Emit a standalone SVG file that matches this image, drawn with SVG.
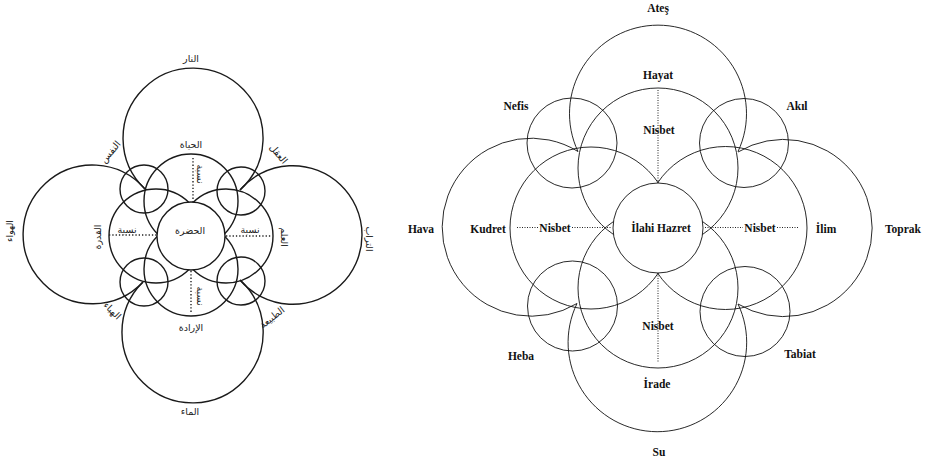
<svg xmlns="http://www.w3.org/2000/svg" width="925" height="463" viewBox="0 0 925 463">
<style>
.a{fill:none;stroke:#1a1a1a;stroke-width:1.4}
.ac{fill:#fff;stroke:#1a1a1a;stroke-width:1.4}
.b{fill:none;stroke:#111;stroke-width:0.9}
.bc{fill:#fff;stroke:#111;stroke-width:0.9}
.da{stroke:#222;stroke-width:1.4;stroke-dasharray:1.3 2;fill:none}
.db{stroke:#222;stroke-width:1;stroke-dasharray:1 1.5;fill:none}
.ar{font-family:"DejaVu Sans",sans-serif;font-size:9.5px;fill:#222;text-anchor:middle}
.tr{font-family:"Liberation Serif","Times New Roman",serif;font-size:11.5px;font-weight:bold;fill:#111;text-anchor:middle}
</style>
<rect width="925" height="463" fill="#fff"/>

<!-- LEFT: original manuscript diagram -->
<g id="left-diagram">
  <g id="l-nar"><path class="a" d="M145,189 A70,70 0 1 1 240,190"/><text class="ar" x="191" y="62">النار</text></g>
  <g id="l-hava"><path class="a" d="M145,189 A69.4,69.4 0 1 0 143,282"/><text class="ar" transform="translate(13,231) rotate(-90)">الهواء</text></g>
  <g id="l-turab"><path class="a" d="M240,190 A69.3,69.3 0 1 1 240,280"/><text class="ar" transform="translate(366,239) rotate(90)">التراب</text></g>
  <g id="l-ma"><path class="a" d="M143,282 A70.6,70.6 0 1 0 240,280"/><text class="ar" x="190" y="415">الماء</text></g>

  <g id="l-hayat"><circle class="a" cx="191" cy="201" r="47"/><text class="ar" x="191" y="148">الحياة</text></g>
  <g id="l-irade"><circle class="a" cx="191" cy="269" r="47"/><text class="ar" x="191" y="331">الإرادة</text></g>
  <g id="l-kudret"><circle class="a" cx="156" cy="236" r="47"/><text class="ar" transform="translate(101,237) rotate(-90)">القدرة</text></g>
  <g id="l-ilim"><circle class="a" cx="226" cy="236" r="47"/><text class="ar" transform="translate(281,237) rotate(90)">العلم</text></g>

  <g id="l-nefs"><circle class="a" cx="144" cy="189" r="24"/><text class="ar" transform="translate(113,154) rotate(-50)">النفس</text></g>
  <g id="l-akl"><circle class="a" cx="241" cy="191" r="24"/><text class="ar" transform="translate(276,156) rotate(50)">العقل</text></g>
  <g id="l-heba"><circle class="a" cx="144" cy="282" r="24"/><text class="ar" transform="translate(110,313) rotate(45)">الهباء</text></g>
  <g id="l-tabia"><circle class="a" cx="241" cy="281" r="24"/><text class="ar" transform="translate(274,320) rotate(-38)">الطبيعة</text></g>

  <g id="l-hazret"><circle class="ac" cx="191" cy="236" r="34"/><text class="ar" x="190" y="234">الحضرة</text></g>

  <g id="l-connectors">
    <line class="da" x1="193" y1="158" x2="193" y2="202"/>
    <line class="da" x1="191" y1="271" x2="191" y2="314"/>
    <line class="da" x1="109" y1="235" x2="157" y2="235"/>
    <line class="da" x1="226" y1="236" x2="272" y2="236"/>
  </g>
  <g id="l-nisbet-labels">
    <text class="ar" x="127" y="233">نسبة</text>
    <text class="ar" x="250" y="233">نسبة</text>
    <text class="ar" transform="translate(197,174) rotate(90)">نسبة</text>
    <text class="ar" transform="translate(197,296) rotate(90)">نسبة</text>
  </g>
</g>

<!-- RIGHT: Turkish rendering -->
<g id="right-diagram">
  <g id="r-ates"><path class="b" d="M578,151.5 A88.5,88.5 0 1 1 738,151.5"/><text class="tr" x="658" y="12">Ateş</text></g>
  <g id="r-hava"><path class="b" d="M578,151.5 A89,89 0 1 0 577,303.5"/><text class="tr" x="421" y="233">Hava</text></g>
  <g id="r-toprak"><path class="b" d="M738,152 A88.6,88.6 0 1 1 738,304"/><text class="tr" x="903" y="233">Toprak</text></g>
  <g id="r-su"><path class="b" d="M577,303.5 A89.3,89.3 0 1 0 738,304"/><text class="tr" x="659" y="456">Su</text></g>

  <g id="r-hayat"><circle class="b" cx="658" cy="168" r="80"/><text class="tr" x="658" y="79">Hayat</text></g>
  <g id="r-irade"><circle class="b" cx="658" cy="288" r="80"/><text class="tr" x="657" y="388">İrade</text></g>
  <g id="r-kudret"><circle class="b" cx="591" cy="228" r="81"/><text class="tr" x="488" y="233">Kudret</text></g>
  <g id="r-ilim"><circle class="b" cx="725.5" cy="228" r="81.5"/><text class="tr" x="826" y="233">İlim</text></g>

  <g id="r-nefis"><circle class="b" cx="572" cy="143" r="45"/><text class="tr" x="516" y="110">Nefis</text></g>
  <g id="r-akil"><circle class="b" cx="744" cy="143" r="44.5"/><text class="tr" x="797" y="110">Akıl</text></g>
  <g id="r-heba"><circle class="b" cx="572.5" cy="306" r="45"/><text class="tr" x="521" y="360">Heba</text></g>
  <g id="r-tabiat"><circle class="b" cx="745" cy="311.5" r="45"/><text class="tr" x="800" y="358">Tabiat</text></g>

  <g id="r-hazret"><circle class="bc" cx="658" cy="228" r="45"/><text class="tr" x="661" y="232">İlahi Hazret</text></g>

  <g id="r-nisbet-labels">
    <text class="tr" x="659" y="134">Nisbet</text>
    <text class="tr" x="658" y="330">Nisbet</text>
    <text class="tr" x="555" y="232">Nisbet</text>
    <text class="tr" x="760" y="232">Nisbet</text>
  </g>
  <g id="r-connectors">
    <line class="db" x1="658" y1="90" x2="658" y2="183"/>
    <line class="db" x1="658" y1="273" x2="658" y2="363"/>
    <line class="db" x1="517" y1="227.5" x2="539" y2="227.5"/>
    <line class="db" x1="572" y1="227.5" x2="612" y2="227.5"/>
    <line class="db" x1="705" y1="227.5" x2="743" y2="227.5"/>
    <line class="db" x1="777" y1="227.5" x2="799" y2="227.5"/>
  </g>
</g>
</svg>
